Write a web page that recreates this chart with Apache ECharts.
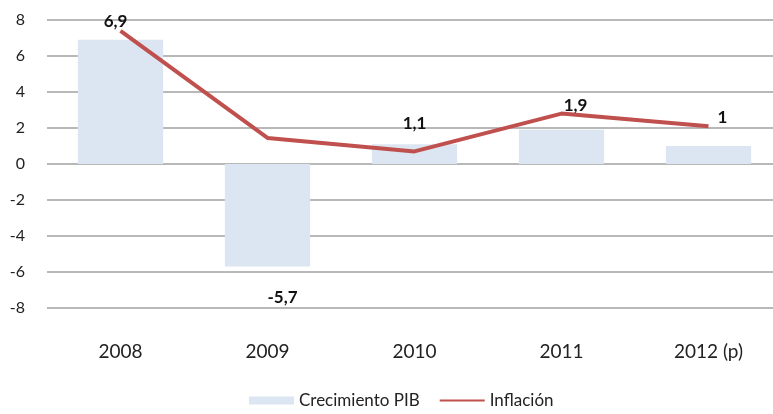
<!DOCTYPE html>
<html>
  <head>
      <meta charset="utf-8">
      <script src="https://cdn.jsdelivr.net/npm/echarts@6/dist/echarts.min.js"></script>
  </head>
<body style="margin:0;overflow:hidden">
    <div id="main" style="width: 790px;height:414px;"></div>
    <script type="text/javascript">
        var years = ['2008', '2009', '2010', '2011', '2012 (p)'];
        var pib = [6.9, -5.7, 1.1, 1.9, 1.0];
        var inflacion = [7.4, 1.45, 0.7, 2.8, 2.1];
        var yTicks = { min: -8, max: 8, step: 2 };

        var myChart = echarts.init(document.getElementById('main'));
        myChart.setOption({
            textStyle: { fontFamily: 'Lato' },
            // plot runs a little past the right edge of the picture
            grid: { left: 47, right: 8, top: 20, bottom: 106 },
            legend: {
                bottom: 0,
                left: 244,
                itemGap: 20,
                itemWidth: 45,
                itemHeight: 8,
                textStyle: { fontSize: 17, color: '#222' },
                data: [
                    { name: 'Crecimiento PIB', icon: 'rect' },
                    { name: 'Inflación', icon: 'path://M0,0H45V2H0Z' }
                ]
            },
            xAxis: {
                type: 'category',
                data: years,
                axisLine: { show: false, onZero: false },
                axisTick: { show: false },
                axisLabel: { margin: 34, fontSize: 19, color: '#222' }
            },
            yAxis: {
                type: 'value',
                min: yTicks.min,
                max: yTicks.max,
                interval: yTicks.step,
                axisLabel: { margin: 22, fontSize: 16, color: '#222' },
                splitLine: { lineStyle: { color: '#A0A0A0', width: 1.5 } }
            },
            series: [
                {
                    name: 'Crecimiento PIB',
                    type: 'bar',
                    data: pib,
                    barCategoryGap: '42%',
                    itemStyle: { color: '#DCE6F2' },
                    label: {
                        show: true,
                        position: 'top',
                        distance: 12,
                        fontSize: 17,
                        fontWeight: 'bold',
                        color: '#111',
                        formatter: function (p) {
                            return String(p.value).replace('.', ',');
                        }
                    },
                    labelLayout: function (p) {
                        if (p.dataIndex === 1) {
                            return { y: p.rect.y + p.rect.height + 22 };
                        }
                        if (p.dataIndex === 0) {
                            return { dx: -5, dy: 2 };
                        }
                        if (p.dataIndex === 3) {
                            return { dx: 14, dy: -4 };
                        }
                        if (p.dataIndex === 4) {
                            return { dx: 14, dy: -8 };
                        }
                        return {};
                    }
                },
                {
                    name: 'Inflación',
                    type: 'line',
                    data: inflacion,
                    symbol: 'none',
                    z: 3,
                    lineStyle: { color: '#C0504D', width: 4 },
                    itemStyle: { color: '#C0504D' }
                }
            ]
        });
    </script>
</body>
</html>
